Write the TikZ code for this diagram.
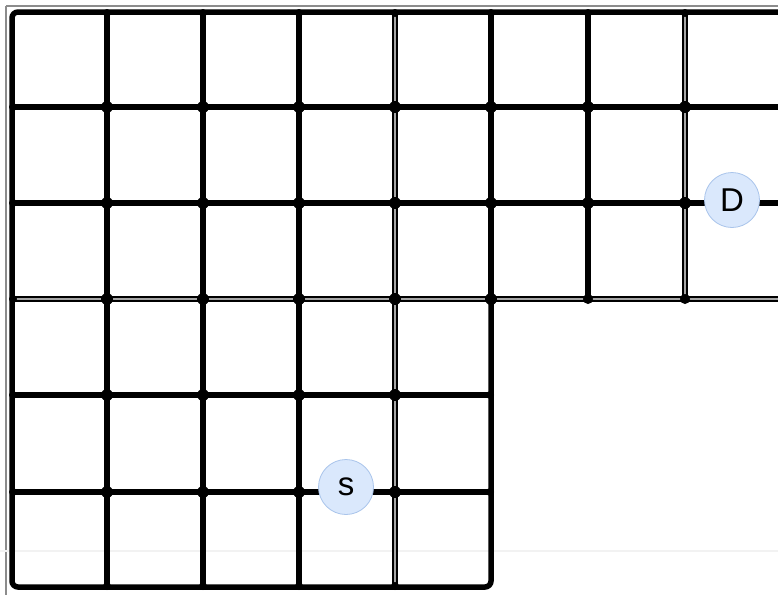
\documentclass[tikz,border=0pt]{standalone}
\usepackage{fontspec}
\setmainfont{Liberation Sans}
\definecolor{markfill}{RGB}{218,232,252}
\definecolor{markdraw}{RGB}{169,196,235}
\begin{document}
\begin{tikzpicture}[x=1pt,y=-1pt,
  gridline/.style={line width=5.5pt, black},
  dblinner/.style={line width=1.2pt, black!35},
  dot/.style={fill=black, draw=none},
  marker/.style={circle, minimum size=55pt, inner sep=0pt, fill=markfill, draw=markdraw, line width=0.8pt, font=\fontsize{33}{38}\selectfont}]
\useasboundingbox (0,0) rectangle (778,595);
\fill[white] (0,0) rectangle (778,595);
\clip (0,0) rectangle (778,595);
% screenshot frame
\draw[line width=2pt, black!45] (6,6) -- (778,6);
\draw[line width=2pt, black!45] (6,6) -- (6,595);
% faint band
\draw[line width=1.5pt, black!5] (0,551) -- (778,551);
% outer boundary
\draw[gridline, rounded corners=6pt] (12,12) -- (790,12) -- (790,299) -- (491,299) -- (491,587) -- (12,587) -- cycle;
% verticals
\foreach \x in {107,203,299,395} \draw[gridline] (\x,12) -- (\x,587);
\foreach \x in {491,588,685} \draw[gridline] (\x,12) -- (\x,299);
% horizontals
\foreach \y in {107,203,299} \draw[gridline] (12,\y) -- (790,\y);
\foreach \y in {395,492} \draw[gridline] (12,\y) -- (491,\y);
% double lines (inner light stroke)
\draw[dblinner] (395,14) -- (395,585);
\draw[dblinner] (685,14) -- (685,297);
\draw[dblinner] (14,299) -- (790,299);
% interior dots
\foreach \x in {107,203,299,395} \foreach \y in {107,203,299,395,492} \fill[dot] (\x,\y) circle (6pt);
\foreach \x in {491,588,685} \foreach \y in {107,203} \fill[dot] (\x,\y) circle (6pt);
\fill[dot] (491,299) circle (6pt);
% edge dots (smaller)
\foreach \x in {107,203,299,395,491,588,685} \fill[dot] (\x,13) circle (4pt);
\foreach \x in {107,203,299,395} \fill[dot] (\x,586) circle (4pt);
\foreach \x in {588,685} \fill[dot] (\x,299) circle (5pt);
\foreach \y in {107,203,299,395,492} \fill[dot] (13,\y) circle (4pt);
\foreach \y in {395,492} \fill[dot] (490,\y) circle (4pt);
% markers
\node[marker] (D) at (732,200) {D};
\node[marker] (s) at (346,487) {s};
\end{tikzpicture}
\end{document}
